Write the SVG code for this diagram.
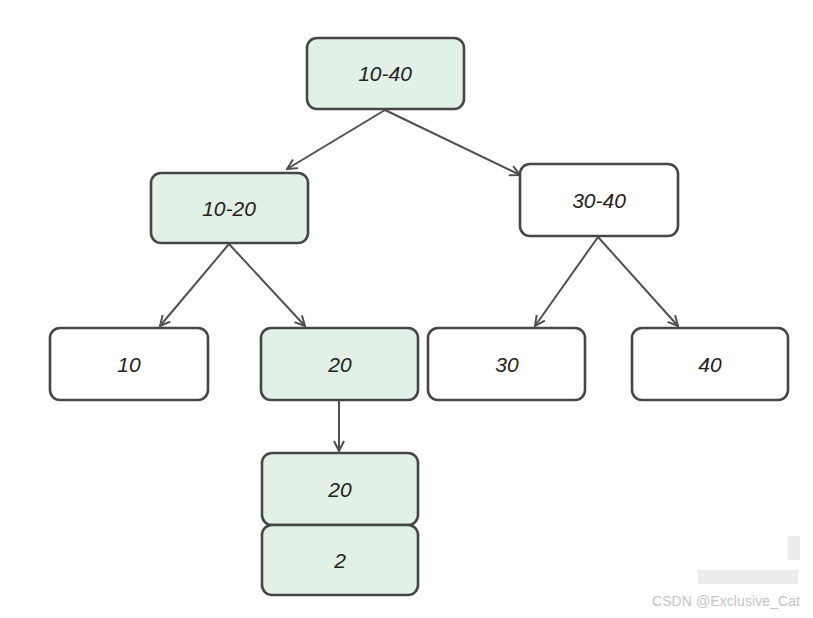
<svg xmlns="http://www.w3.org/2000/svg" width="813" height="618" viewBox="0 0 813 618">
<style>
.box{stroke:#464646;stroke-width:2.6;stroke-linejoin:round}
.g{fill:#e2f1e5}
.w{fill:#ffffff}
.t{font-family:"Liberation Sans",Arial,sans-serif;font-style:italic;font-size:21px;fill:#222;text-anchor:middle;dominant-baseline:central}
.c{stroke:#505050;stroke-width:2;fill:none}
.wm{font-family:"Liberation Sans",Arial,sans-serif;font-size:14px;fill:#c4c4c4}
.px{fill:#ececec}
</style>
<defs>
<marker id="ah" viewBox="0 0 12 12" refX="11" refY="6" markerWidth="12" markerHeight="12" markerUnits="userSpaceOnUse" orient="auto">
<path d="M1,1 L11,6 L1,11" fill="none" stroke="#505050" stroke-width="2"/>
</marker>
</defs>
<rect width="813" height="618" fill="#ffffff"/>
<g id="connectors">
<line class="c" x1="385" y1="110" x2="287" y2="169" marker-end="url(#ah)"/>
<line class="c" x1="385" y1="110" x2="520" y2="175" marker-end="url(#ah)"/>
<line class="c" x1="229" y1="244" x2="160" y2="326" marker-end="url(#ah)"/>
<line class="c" x1="229" y1="244" x2="305" y2="326" marker-end="url(#ah)"/>
<line class="c" x1="598" y1="237" x2="535" y2="326" marker-end="url(#ah)"/>
<line class="c" x1="598" y1="237" x2="678" y2="326" marker-end="url(#ah)"/>
<line class="c" x1="339" y1="401" x2="339" y2="451" marker-end="url(#ah)"/>
</g>
<g id="n1040"><rect class="box g" x="307" y="38" width="157" height="71" rx="10"/><text class="t" x="385" y="73">10-40</text></g>
<g id="n1020"><rect class="box g" x="151" y="173" width="157" height="70" rx="10"/><text class="t" x="229" y="208">10-20</text></g>
<g id="n3040"><rect class="box w" x="520" y="164" width="158" height="72" rx="10"/><text class="t" x="599" y="200">30-40</text></g>
<g id="n10"><rect class="box w" x="50" y="328" width="158" height="72" rx="10"/><text class="t" x="129" y="364">10</text></g>
<g id="n20"><rect class="box g" x="261" y="328" width="157" height="72" rx="10"/><text class="t" x="340" y="364">20</text></g>
<g id="n30"><rect class="box w" x="428" y="328" width="157" height="72" rx="10"/><text class="t" x="507" y="364">30</text></g>
<g id="n40"><rect class="box w" x="632" y="328" width="156" height="72" rx="10"/><text class="t" x="710" y="364">40</text></g>
<g id="n20b"><rect class="box g" x="262" y="453" width="156" height="72" rx="10"/><text class="t" x="340" y="489">20</text></g>
<g id="n2"><rect class="box g" x="262" y="525" width="156" height="70" rx="10"/><text class="t" x="340" y="560">2</text></g>
<g id="blur">
<rect class="px" x="698" y="570" width="100" height="14"/>
<rect class="px" x="788" y="536" width="12" height="24"/>
</g>
<text class="wm" x="652" y="606" textLength="148">CSDN @Exclusive_Cat</text>
</svg>
